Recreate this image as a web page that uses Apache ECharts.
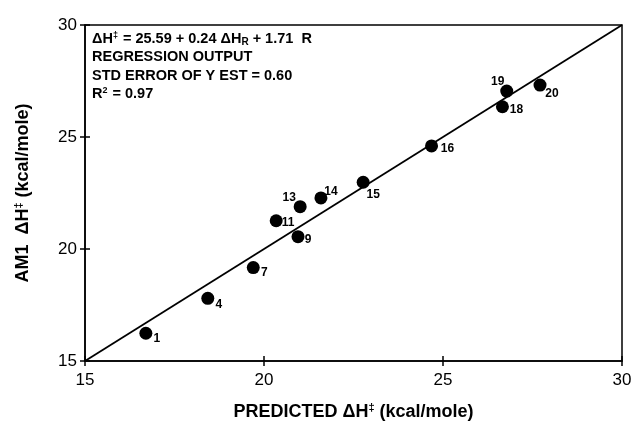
<!DOCTYPE html>
<html>
<head>
    <meta charset="utf-8" />
    <script type="text/javascript" src="https://cdn.jsdelivr.net/npm/echarts@6/dist/echarts.min.js"></script>
    <title></title>
</head>
<body style="margin:0;background:#fff;">
    <div id="main" style="width: 638px;height:424px;"></div>
    <script type="text/javascript">
    // points: predicted dH (x), AM1 dH (y), compound number
    var predicted = [16.70, 18.43, 19.70, 20.95, 20.34, 21.01, 21.59, 22.77, 24.68, 26.66, 26.78, 27.71];
    var am1 = [16.24, 17.80, 19.17, 20.55, 21.26, 21.89, 22.28, 22.98, 24.60, 26.35, 27.05, 27.32];
    var names = ['1', '4', '7', '9', '11', '13', '14', '15', '16', '18', '19', '20'];
    var labelShift = [[11, 5], [11, 6], [11, 5], [10, 3], [12, 2], [-11, -9], [10, -6], [10, 12], [16, 3], [14, 3], [-9, -9], [12, 9]];
    var fitLine = [[15, 15], [30, 30]];
    var notes = [
        '{b|ΔH}{s|‡}{b| = 25.59 + 0.24 ΔH}{sub|R}{b| + 1.71  R}',
        '{b|REGRESSION OUTPUT}',
        '{b|STD ERROR OF Y EST = 0.60}',
        '{b|R}{s|2}{b| = 0.97}'
    ];

    var myChart = echarts.init(document.getElementById('main'));

    var points = [];
    for (var i = 0; i < predicted.length; i++) {
        points.push({
            value: [predicted[i], am1[i]],
            name: names[i],
            label: { offset: labelShift[i] }
        });
    }

    var txtRich = {
        b: { fontSize: 14.5, fontWeight: 'bold', color: '#000', fontFamily: 'Liberation Sans' },
        s: { fontSize: 9, fontWeight: 'bold', color: '#000', verticalAlign: 'top', padding: [0, 1, 6, 0], fontFamily: 'Liberation Sans' },
        sub: { fontSize: 10, fontWeight: 'bold', color: '#000', padding: [6, 0, 0, 0], fontFamily: 'Liberation Sans' }
    };
    var titleRich = {
        b: { fontSize: 18, fontWeight: 'bold', color: '#000', fontFamily: 'Liberation Sans' },
        s: { fontSize: 11, fontWeight: 'bold', color: '#000', padding: [0, 0, 9, 0], fontFamily: 'Liberation Sans' }
    };
    // second set of axes only for the inward half of the crossing ticks
    var innerTick = {
        type: 'value', min: 15, max: 30, interval: 5,
        axisLine: { show: false },
        axisTick: { inside: true, length: 5, lineStyle: { color: '#000', width: 1.5 } },
        axisLabel: { show: false },
        splitLine: { show: false }
    };

    var option = {
        backgroundColor: '#fff',
        animation: false,
        grid: {
            left: 85, right: 16, top: 25, bottom: 63,
            outerBoundsMode: 'none',
            show: true, borderColor: '#000', borderWidth: 1.5
        },
        graphic: notes.map(function (t, k) {
            return {
                type: 'text', left: 92, top: 31 + k * 18.5,
                style: { text: t, rich: txtRich }
            };
        }),
        xAxis: [{
            type: 'value', min: 15, max: 30, interval: 5,
            name: '{b|PREDICTED ΔH}{s|‡}{b| (kcal/mole)}',
            nameLocation: 'middle', nameGap: 41,
            nameTextStyle: { rich: titleRich },
            axisLine: { lineStyle: { color: '#000', width: 1.5 } },
            axisTick: { length: 5, lineStyle: { color: '#000', width: 1.5 } },
            axisLabel: { fontSize: 17, color: '#000', margin: 11, fontFamily: 'Liberation Sans' },
            splitLine: { show: false }
        }, Object.assign({ position: 'bottom', offset: 0 }, innerTick)],
        yAxis: [{
            type: 'value', min: 15, max: 30, interval: 5,
            name: '{b|AM1  ΔH}{s|‡}{b| (kcal/mole)}',
            nameLocation: 'middle', nameGap: 52, nameRotate: 90,
            nameTextStyle: { rich: titleRich },
            axisLine: { lineStyle: { color: '#000', width: 1.5 } },
            axisTick: { length: 5, lineStyle: { color: '#000', width: 1.5 } },
            axisLabel: { fontSize: 17, color: '#000', margin: 8, fontFamily: 'Liberation Sans' },
            splitLine: { show: false }
        }, Object.assign({ position: 'left', offset: 0 }, innerTick)],
        series: [{
            type: 'line',
            data: fitLine,
            symbol: 'none',
            lineStyle: { color: '#000', width: 1.8 },
            silent: true
        }, {
            type: 'scatter',
            data: points,
            symbol: 'circle',
            symbolSize: 13,
            itemStyle: { color: '#000', opacity: 1 },
            label: {
                show: true,
                position: 'inside',
                formatter: '{b}',
                fontSize: 12,
                fontWeight: 'bold',
                color: '#000',
                fontFamily: 'Liberation Sans'
            },
            z: 3
        }]
    };
    myChart.setOption(option);
    </script>
</body>
</html>
